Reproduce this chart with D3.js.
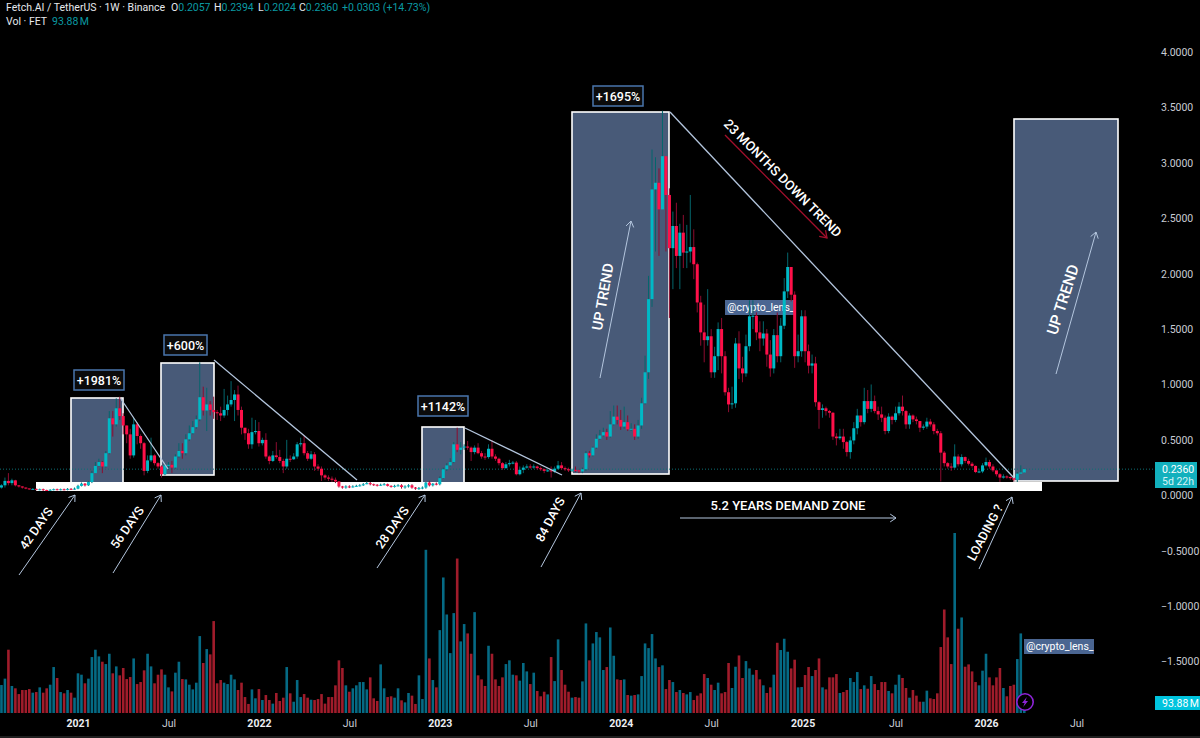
<!DOCTYPE html>
<html>
<head>
<meta charset="utf-8">
<script src="https://d3js.org/d3.v7.min.js"></script>
<style>
  html,body{margin:0;padding:0;background:#000;overflow:hidden}
  svg{display:block;font-family:Roboto,"Noto Sans",sans-serif}
</style>
</head>
<body>
<svg width="1200" height="738"></svg>
<script>
const opens = [
.07,.09,.13,.11,.135,.09,.08,.07,.062,.055,.058,.05,.055,.048,.045,.05,.055,.05,.055,.05,
.058,.055,.06,.085,.105,.09,.12,.2,.265,.3,.26,.38,.695,.64,.785,.715,.63,.55,.36,.64,
.535,.47,.22,.315,.36,.29,.26,.19,.27,.275,.25,.35,.4,.38,.505,.56,.615,.685,.885,.765,
.82,.77,.75,.74,.72,.77,.82,.86,.91,.77,.61,.56,.46,.57,.58,.47,.5,.35,.31,.36,
.345,.31,.26,.33,.325,.35,.46,.47,.38,.33,.37,.26,.24,.18,.16,.15,.14,.125,.08,.07,
.08,.075,.08,.085,.09,.1,.11,.1,.095,.09,.095,.1,.085,.08,.085,.09,.075,.08,.09,.07,
.06,.065,.07,.115,.09,.105,.1,.155,.235,.27,.3,.46,.41,.43,.44,.43,.39,.43,.38,.35,
.345,.42,.35,.33,.29,.245,.28,.29,.295,.19,.23,.25,.26,.255,.26,.245,.235,.22,.225,.215,
.24,.27,.245,.235,.225,.23,.225,.215,.235,.38,.36,.43,.51,.54,.57,.53,.64,.71,.68,.62,
.66,.595,.6,.53,.63,.83,1.11,1.77,2.76,2.82,2.58,3.06,2.71,2.23,2.43,2.16,2.37,2.19,2.2,2.24,
2.085,1.74,1.47,1.4,1.435,1.11,1.255,1.5,1.255,.93,.82,.83,1.37,1.145,1.1,1.345,1.615,1.62,1.47,1.415,
1.46,1.27,1.145,1.445,1.255,1.53,1.84,2.06,1.81,1.255,1.3,1.615,1.3,1.17,1.19,.84,.77,.785,.76,.745,
.53,.515,.53,.48,.39,.495,.605,.72,.66,.85,.78,.85,.76,.73,.7,.58,.71,.68,.74,.8,
.76,.64,.72,.685,.67,.61,.62,.665,.64,.58,.56,.385,.29,.26,.25,.35,.28,.345,.31,.285,
.265,.21,.215,.27,.3,.26,.225,.19,.16,.17,.165,.155,.14,.195,.2057]

const closes = [
.09,.13,.11,.135,.09,.08,.07,.062,.055,.058,.05,.055,.048,.045,.05,.055,.05,.055,.05,.058,
.055,.06,.085,.105,.09,.12,.2,.265,.3,.26,.38,.695,.64,.785,.715,.63,.55,.36,.64,.535,
.47,.22,.315,.36,.29,.26,.19,.27,.275,.25,.35,.4,.38,.505,.56,.615,.685,.885,.765,.82,
.77,.75,.74,.72,.77,.82,.86,.91,.77,.61,.56,.46,.57,.58,.47,.5,.35,.31,.36,.345,
.31,.26,.33,.325,.35,.46,.47,.38,.33,.37,.26,.24,.18,.16,.15,.14,.125,.08,.07,.08,
.075,.08,.085,.09,.1,.11,.1,.095,.09,.095,.1,.085,.08,.085,.09,.075,.08,.09,.07,.06,
.065,.07,.115,.09,.105,.1,.155,.235,.27,.3,.46,.41,.43,.44,.43,.39,.43,.38,.35,.345,
.42,.35,.33,.29,.245,.28,.29,.295,.19,.23,.25,.26,.255,.26,.245,.235,.22,.225,.215,.24,
.27,.245,.235,.225,.23,.225,.215,.235,.38,.36,.43,.51,.54,.57,.53,.64,.71,.68,.62,.66,
.595,.6,.53,.63,.83,1.11,1.77,2.76,2.82,2.58,3.06,2.71,2.23,2.43,2.16,2.37,2.19,2.2,2.24,2.085,
1.74,1.47,1.4,1.435,1.11,1.255,1.5,1.255,.93,.82,.83,1.37,1.145,1.1,1.345,1.615,1.62,1.47,1.415,1.46,
1.27,1.145,1.445,1.255,1.53,1.84,2.06,1.81,1.255,1.3,1.615,1.3,1.17,1.19,.84,.77,.785,.76,.745,.53,
.515,.53,.48,.39,.495,.605,.72,.66,.85,.78,.85,.76,.73,.7,.58,.71,.68,.74,.8,.76,
.64,.72,.685,.67,.61,.62,.665,.64,.58,.56,.385,.29,.26,.25,.35,.28,.345,.31,.285,.265,
.21,.215,.27,.3,.26,.225,.19,.16,.17,.165,.155,.14,.195,.2057,.236]

const highs = [
.1,.16,.2,.15,.14,.09,.08,.07,.06,.065,.06,.06,.06,.05,.055,.06,.06,.06,.06,.065,
.065,.07,.095,.115,.11,.13,.22,.3,.33,.31,.4,.76,.76,.875,.89,.74,.63,.6,.7,.66,
.55,.48,.36,.52,.37,.3,.27,.29,.3,.31,.37,.47,.47,.55,.63,.67,.72,1.2,.98,.97,
.85,.89,.77,.8,.96,.9,1.03,.95,.99,.8,.6,.6,.7,.68,.66,.52,.56,.36,.4,.48,
.41,.33,.5,.36,.38,.48,.52,.54,.4,.4,.39,.28,.26,.19,.18,.17,.16,.13,.085,.09,
.09,.09,.095,.1,.11,.125,.12,.105,.1,.105,.11,.105,.09,.095,.1,.1,.09,.1,.1,.075,
.075,.08,.12,.13,.11,.115,.17,.25,.29,.335,.48,.61,.48,.46,.49,.44,.45,.47,.4,.38,
.46,.5,.37,.34,.3,.3,.32,.31,.31,.26,.27,.28,.28,.28,.27,.26,.24,.24,.26,.26,
.31,.3,.26,.25,.24,.26,.23,.25,.4,.4,.44,.55,.59,.61,.6,.76,.81,.81,.77,.8,
.72,.65,.64,.68,.88,1.26,1.98,3.12,3.05,2.95,3.47,3.05,2.77,2.56,2.64,2.45,2.53,2.44,2.71,2.4,
2.1,1.8,1.72,1.86,1.5,1.34,1.56,1.6,1.3,.97,.98,1.42,1.48,1.25,1.45,1.76,1.76,1.65,1.57,1.57,
1.5,1.4,1.5,1.65,1.6,1.96,2.19,2.05,1.84,1.45,1.67,1.67,1.36,1.27,1.25,.85,.82,.8,.77,.75,
.56,.6,.6,.49,.53,.66,.78,.72,.97,.95,1,.9,.8,.8,.72,.74,.72,.8,.84,.9,
.77,.74,.73,.71,.67,.64,.7,.69,.66,.6,.58,.4,.3,.29,.46,.37,.37,.35,.33,.3,
.27,.24,.29,.34,.32,.28,.22,.2,.19,.18,.17,.16,.21,.27,.2394]

const lows = [
.06,.07,.09,.09,.08,.07,.06,.055,.05,.05,.045,.045,.04,.04,.04,.045,.045,.045,.045,.045,
.05,.05,.055,.08,.08,.085,.11,.2,.26,.2,.25,.37,.53,.62,.68,.55,.47,.33,.34,.46,
.42,.18,.2,.3,.27,.24,.16,.18,.23,.2,.24,.34,.33,.36,.49,.55,.6,.67,.72,.58,
.72,.69,.68,.67,.7,.72,.8,.67,.72,.55,.5,.42,.42,.55,.44,.45,.33,.28,.3,.33,
.29,.2,.24,.3,.32,.33,.44,.36,.31,.32,.22,.22,.13,.14,.13,.12,.11,.07,.06,.06,
.065,.07,.075,.08,.085,.1,.09,.085,.08,.085,.09,.08,.07,.07,.08,.06,.06,.07,.06,.05,
.05,.055,.06,.08,.08,.09,.09,.15,.22,.26,.29,.39,.37,.41,.41,.31,.37,.37,.33,.32,
.33,.33,.31,.27,.23,.24,.26,.28,.18,.18,.2,.24,.24,.24,.23,.22,.2,.21,.16,.2,
.23,.23,.22,.21,.21,.21,.2,.2,.22,.34,.35,.42,.5,.53,.5,.52,.63,.64,.59,.6,
.58,.58,.5,.51,.6,.82,1.05,1.7,2.2,2.16,2.6,2.2,1.6,1.86,2.05,1.86,2.05,2.05,2.1,1.95,
1.65,1.35,1.2,1.35,1.06,1.06,1.13,1.1,.9,.75,.78,.79,1.05,1.02,1.07,1.3,1.5,1.4,1.3,1.35,
1.16,1.07,1.1,1.2,1.2,1.5,1.78,1.75,1.15,1.2,1.25,1.2,1.1,1.1,.8,.6,.7,.72,.7,.5,
.45,.5,.42,.35,.33,.46,.55,.62,.64,.74,.75,.74,.68,.66,.55,.56,.64,.66,.72,.72,
.6,.6,.66,.64,.57,.59,.6,.62,.55,.54,.125,.26,.24,.22,.24,.26,.26,.29,.27,.25,
.2,.2,.2,.26,.24,.21,.17,.12,.15,.15,.14,.125,.12,.19,.2024]

// weekly volume in millions
const volumes = [
263,323,595,254,232,178,216,216,225,191,197,241,191,232,266,432,329,197,185,216,
191,144,373,360,279,323,526,595,532,482,460,557,373,438,354,423,319,338,513,272,
291,401,557,438,279,360,410,360,241,203,379,482,319,316,266,222,285,723,470,601,
551,864,279,310,285,272,360,316,216,285,150,85,222,138,225,122,169,122,88,188,
113,144,432,185,106,310,150,178,144,125,122,131,178,88,150,150,260,495,423,260,
200,232,260,291,291,222,335,138,113,457,232,150,157,144,232,
119,100,188,163,85,354,131,1534,513,310,241,779,1274,926,563,939,1452,673,836,748,
557,948,354,316,254,632,557,316,254,335,460,495,360,354,304,470,391,272,379,207,
157,200,175,526,300,692,404,266,200,144,150,144,297,842,495,654,761,711,404,432,
804,538,316,310,316,169,163,169,175,347,654,610,742,513,432,448,225,310,291,197,
216,188,175,197,122,163,185,366,329,266,216,285,185,197,470,235,435,541,329,488,
419,360,404,316,260,188,241,360,660,592,698,576,419,501,241,
244,357,432,347,404,513,241,222,335,335,366,188,197,216,329,291,385,225,260,228,
347,272,216,291,291,207,185,266,360,329,235,144,216,163,106,106,210,138,131,185,
620,973,711,460,1692,792,898,435,457,391,291,260,398,557,335,260,335,423,235,157,
254,266,507,748,93.88]

const priceTicks = [4.5,4,3.5,3,2.5,2,1.5,1,.5,0,-.5,-1,-1.5]
const timeTicks = ['2021-01-04','2021-07-05','2022-01-03','2022-07-04','2023-01-02','2023-07-03',
  '2024-01-01','2024-07-01','2025-01-01','2025-07-07','2026-01-05','2026-07-06']
const timeLabels = ['2021','Jul','2022','Jul','2023','Jul','2024','Jul','2025','Jul','2026','Jul']

const firstWeek = Date.UTC(2020,7,3)
const week = 7*24*3600*1000
const lastClose = closes[closes.length-1]
const lastVolume = volumes[volumes.length-1]

const teal = '#00b9c6', tealWick = '#04666c', tealVol = '#056a84'
const red = '#ff1049', redWick = '#8c0c30', redVol = '#a01c2b'
const boxFill = '#485a78', lineCol = '#b4c6de'

const svg = d3.select('svg')

const x = d3.scaleUtc()
  .domain([new Date('2021-01-04'),new Date('2026-01-05')])
  .range([78,986])
const y = d3.scaleLinear().domain([0,4]).range([495.3,52])
const yVol = d3.scaleLinear().domain([0,1692]).range([713,533])
const barX = i => x(new Date(firstWeek+i*week))

/* Drawings behind the candles */
const $back = svg.append('g')
const boxes = [[71,398,52,86],[161,363,53,112],[422,427,42,58],[572,112,97,362],[1014,119,104,362]]
$back.selectAll('.box').data(boxes)
  .enter().append('rect').classed('box',true)
  .attr('x',d => d[0]).attr('y',d => d[1]).attr('width',d => d[2]).attr('height',d => d[3])
  .attr('fill',boxFill).attr('stroke','#fff').attr('stroke-width',1.6)
$back.append('rect').attr('x',36).attr('y',482).attr('width',1006).attr('height',9).attr('fill','#fff')

function tag(x0,y0,w){
  const g = svg.append('g')
  g.append('rect').attr('x',x0).attr('y',y0).attr('width',w).attr('height',15).attr('fill','#4a6591')
  g.append('text').attr('x',x0+2).attr('y',y0+11).attr('fill','#fff').attr('font-size',10.5).text('@crypto_lens_')
}
tag(725,300,69)
tag(1024,639,70)

/* Last price line */
svg.append('line')
  .attr('x1',0).attr('x2',1154)
  .attr('y1',y(lastClose)).attr('y2',y(lastClose))
  .attr('stroke','#0d6f73').attr('stroke-dasharray','1 2')

/* Volume */
svg.append('g').selectAll('rect').data(volumes)
  .enter().append('rect')
  .attr('x',(d,i) => barX(i)-1.3)
  .attr('width',2.6)
  .attr('y',d => yVol(d))
  .attr('height',d => yVol(0)-yVol(d))
  .attr('fill',(d,i) => closes[i]>=opens[i] ? tealVol : redVol)

/* Candles */
const $candles = svg.append('g').selectAll('g').data(closes)
  .enter().append('g')
$candles.append('line')
  .attr('x1',(d,i) => barX(i)).attr('x2',(d,i) => barX(i))
  .attr('y1',(d,i) => y(highs[i])).attr('y2',(d,i) => y(lows[i]))
  .attr('stroke',(d,i) => d>=opens[i] ? tealWick : redWick)
$candles.append('rect')
  .attr('x',(d,i) => barX(i)-1.5)
  .attr('width',3)
  .attr('y',(d,i) => y(Math.max(d,opens[i])))
  .attr('height',(d,i) => Math.max(1,Math.abs(y(d)-y(opens[i]))))
  .attr('fill',(d,i) => d>=opens[i] ? teal : red)

/* Arrows and lines */
function arrow(p,color,width,head=8){
  const g = svg.append('g').attr('stroke',color).attr('stroke-width',width).attr('fill','none')
  g.append('line').attr('x1',p[0]).attr('y1',p[1]).attr('x2',p[2]).attr('y2',p[3])
  if(!head) return
  const a = Math.atan2(p[3]-p[1],p[2]-p[0])
  const pts = [a+2.55,a-2.55].map(t => [p[2]+head*Math.cos(t),p[3]+head*Math.sin(t)])
  g.append('path').attr('d',d3.line()([pts[0],[p[2],p[3]],pts[1]]))
}
const trendLines = [[121,399,168,469],[214,360,357,480],[465,428,562,475],[670,112,1014,478]]
trendLines.forEach(d => arrow(d,lineCol,1.3,0))
const arrows = [
  [19,575,75,495],[113,573,161,495],[377,568,425,495],[541,567,581,493],
  [979,569,1012,497],[600,378,631,221],[1056,374,1096,232],[680,518,896,518]
]
arrows.forEach(d => arrow(d,lineCol,1,7))
arrow([725,135,827,238],'#a30f2c',1.3,8)

/* Labels on the drawings */
const notes = [
  ['42 DAYS',37,529,-55,12.5],['56 DAYS',128,528,-55,12.5],['28 DAYS',393,528,-55,12.5],
  ['84 DAYS',551,520,-62,12.5],['LOADING ?',986,533,-62,12.5],
  ['UP TREND',604,297,-80,14.5],['UP TREND',1064,300,-72,15.5],
  ['23 MONTHS DOWN TREND',782,179,45,13.2],['5.2 YEARS DEMAND ZONE',788,507,0,13]
]
svg.append('g').selectAll('text').data(notes)
  .enter().append('text')
  .attr('transform',d => `translate(${d[1]},${d[2]}) rotate(${d[3]})`)
  .attr('text-anchor','middle').attr('dominant-baseline','middle')
  .attr('fill','#fff').attr('font-size',d => d[4]).attr('font-weight',500)
  .text(d => d[0])

const pct = [['+1981%',74,370,50],['+600%',164,335,43],['+1142%',418,396,50],['+1695%',593,86,50]]
const $pct = svg.append('g').selectAll('g').data(pct).enter().append('g')
$pct.append('rect')
  .attr('x',d => d[1]).attr('y',d => d[2]).attr('width',d => d[3]).attr('height',20)
  .attr('fill','#0b0b0b').attr('stroke','#4a76ad').attr('stroke-width',1.5)
$pct.append('text')
  .attr('x',d => d[1]+d[3]/2).attr('y',d => d[2]+14.5)
  .attr('text-anchor','middle').attr('fill','#fff').attr('font-size',12.5).attr('font-weight',500)
  .text(d => d[0])

/* Axes */
const axisY = d3.axisRight(y).tickValues(priceTicks).tickSize(0)
  .tickFormat(d => d3.format('.4f')(d).replace('-','\u2212'))
const $axisY = svg.append('g').attr('transform','translate(1161,0)').call(axisY)
$axisY.select('.domain').remove()
$axisY.selectAll('text').attr('x',0).attr('text-anchor','start')
  .attr('fill','#c8ccd4').attr('font-size',10.5).attr('font-family','Roboto')

const axisX = d3.axisBottom(x).tickValues(timeTicks.map(d => new Date(d))).tickSize(0)
  .tickFormat((d,i) => timeLabels[i])
const $axisX = svg.append('g').attr('transform','translate(0,720)').call(axisX)
$axisX.select('.domain').remove()
$axisX.selectAll('text').attr('y',0).attr('dy','.71em')
  .attr('fill',(d,i) => timeLabels[i]=='Jul' ? '#c8ccd4' : '#eceef2')
  .attr('font-weight',(d,i) => timeLabels[i]=='Jul' ? 400 : 700)
  .attr('font-size',10.5).attr('font-family','Roboto')

svg.append('rect').attr('y',736).attr('width',1200).attr('height',2).attr('fill','#1f1f1f')

/* Price and volume flags */
svg.append('rect').attr('x',1155).attr('y',462).attr('width',42).attr('height',26).attr('fill','#12b0bd')
svg.append('text').attr('x',1162).attr('y',473).attr('fill','#fff')
  .attr('font-size',10.5).text(d3.format('.4f')(lastClose))
svg.append('text').attr('x',1162).attr('y',485).attr('fill','#d8f4f6')
  .attr('font-size',10.5).text('5d 22h')
svg.append('rect').attr('x',1155).attr('y',696).attr('width',45).attr('height',14).attr('fill','#00c4de')
svg.append('text').attr('x',1162).attr('y',707).attr('fill','#fff')
  .attr('font-size',10.5).text(d3.format('.2f')(lastVolume)+'\u202fM')

/* Lightning badge */
const $badge = svg.append('g').attr('transform','translate(1025,702)')
$badge.append('circle').attr('r',8.2).attr('fill','#000').attr('stroke','#8e24d8').attr('stroke-width',1.6)
$badge.append('path').attr('d','M1.8,-5 L-3,1 L-0.4,1 L-1.8,5 L3,-1 L0.4,-1 Z').attr('fill','#8e24d8')

/* Legend */
const legend = svg.append('text').attr('x',6).attr('y',11).attr('font-size',10.5).attr('fill','#e6e8ec')
legend.append('tspan').text('Fetch.AI / TetherUS \u00b7 1W \u00b7 Binance')
const ohlc = [['O','0.2057',171],['H','0.2394',214],['L','0.2024',258],['C','0.2360',299]]
ohlc.forEach(d => {
  legend.append('tspan').attr('x',d[2]).text(d[0])
  legend.append('tspan').attr('fill','#0b9aa3').text(d[1])
})
legend.append('tspan').attr('x',342).attr('fill','#0b9aa3').text('+0.0303 (+14.73%)')
const legend2 = svg.append('text').attr('x',6).attr('y',25).attr('font-size',10.5).attr('fill','#e6e8ec')
legend2.append('tspan').text('Vol \u00b7 FET')
legend2.append('tspan').attr('x',52).attr('fill','#0b9aa3').text('93.88\u202fM')
</script>
</body>
</html>
